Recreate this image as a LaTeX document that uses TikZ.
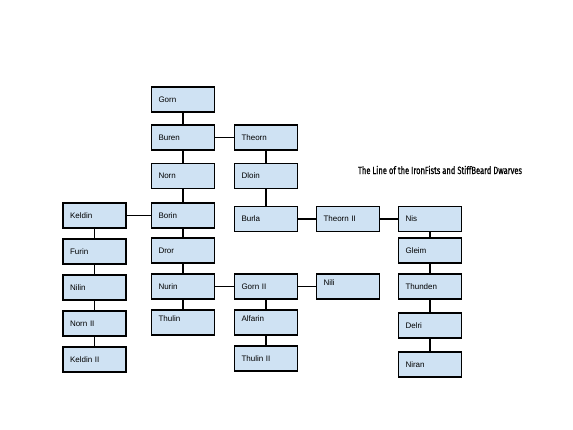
\documentclass[tikz,border=0pt]{standalone}
\usepackage{fontspec}
\setsansfont{Liberation Sans}
\newfontfamily\titlefont[FakeStretch=0.72,FakeBold=0.6]{Fira Sans}
\definecolor{boxblue}{HTML}{CFE2F3}
\tikzset{
  dwarf/.style={draw, fill=boxblue, line width=1.1pt, minimum height=25pt, text width=49pt, inner xsep=7pt, align=left, font=\sffamily\fontsize{8}{9.5}\selectfont},
  high/.style={text depth=8pt},
  link/.style={line width=1.1pt}
}
\begin{document}
\begin{tikzpicture}[x=1pt, y=-1pt]
				\useasboundingbox (0,0) rectangle (573,430);

				% left branch
				\node[dwarf] (keldin) at (94.5,215.5) {Keldin};
				\node[dwarf] (furin) at (94.5,251.5) {Furin};
				\node[dwarf] (nilin) at (94.5,287.5) {Nilin};
				\node[dwarf] (norn2) at (94.5,323.5) {Norn II};
				\node[dwarf] (keldin2) at (94.5,359.5) {Keldin II};

				% main line
				\node[dwarf] (gorn) at (183,99.5) {Gorn};
				\node[dwarf] (buren) at (183,137.5) {Buren};
				\node[dwarf] (norn) at (183,176) {Norn};
				\node[dwarf] (borin) at (183,215.5) {Borin};
				\node[dwarf] (dror) at (183,250.5) {Dror};
				\node[dwarf] (nurin) at (183,286.5) {Nurin};
				\node[dwarf, high] (thulin) at (183,322.5) {Thulin};

				% stiffbeards
				\node[dwarf] (theorn) at (266,137.5) {Theorn};
				\node[dwarf] (dloin) at (266,176) {Dloin};
				\node[dwarf] (burla) at (266,219) {Burla};
				\node[dwarf] (theorn2) at (348,219) {Theorn II};
				\node[dwarf] (nis) at (430,219) {Nis};
				\node[dwarf] (gleim) at (430,250.5) {Gleim};
				\node[dwarf] (thunden) at (430,286.5) {Thunden};
				\node[dwarf] (delri) at (430,325.5) {Delri};
				\node[dwarf] (niran) at (430,364.5) {Niran};

				\node[dwarf] (gorn2) at (266,286.5) {Gorn II};
				\node[dwarf, high] (nili) at (348,286.5) {Nili};
				\node[dwarf, high] (alfarin) at (266,322.5) {Alfarin};
				\node[dwarf] (thulin2) at (266,358.5) {Thulin II};

				\node (title) at (440,170) {\titlefont\fontsize{10.5}{12}\selectfont The Line of the IronFists and StiffBeard Dwarves};

				% connectors
				\draw[link] (gorn) -- (buren);
				\draw[link] (buren) -- (norn);
				\draw[link] (norn) -- (borin);
				\draw[link] (borin) -- (dror);
				\draw[link] (dror) -- (nurin);
				\draw[link] (nurin) -- (thulin);
				\draw[link] (buren) -- (theorn);
				\draw[link] (theorn) -- (dloin);
				\draw[link] (dloin) -- (burla);
				\draw[link] (borin) -- (keldin);
				\draw[link] (keldin) -- (furin);
				\draw[link] (furin) -- (nilin);
				\draw[link] (nilin) -- (norn2);
				\draw[link] (norn2) -- (keldin2);
				\draw[link] (burla) -- (theorn2);
				\draw[link] (theorn2) -- (nis);
				\draw[link] (nis) -- (gleim);
				\draw[link] (gleim) -- (thunden);
				\draw[link] (thunden) -- (delri);
				\draw[link] (delri) -- (niran);
				\draw[link] (nurin) -- (gorn2);
				\draw[link] (gorn2) -- (nili);
				\draw[link] (gorn2) -- (alfarin);
				\draw[link] (alfarin) -- (thulin2);

\end{tikzpicture}
\end{document}
